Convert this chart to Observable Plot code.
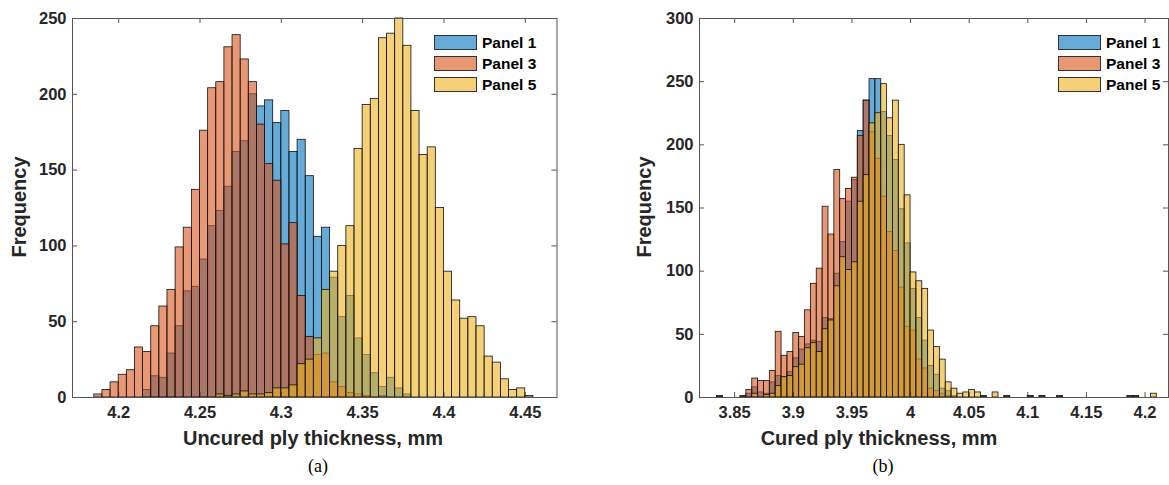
<!DOCTYPE html>
<html>
<head>
<meta charset="utf-8">
<script src="https://cdn.jsdelivr.net/npm/d3@7"></script>
<script src="https://cdn.jsdelivr.net/npm/@observablehq/plot@0.6"></script>
<style>
  html, body { margin: 0; padding: 0; background: #fff; }
  #fig { position: relative; width: 1169px; height: 485px; background: #fff; overflow: hidden;
         font-family: "Liberation Sans", Arial, sans-serif; color: #262626; }
  .abs { position: absolute; white-space: nowrap; }
  .xlab { font-weight: bold; font-size: 20px; transform: translate(-50%, -50%); }
  .ylab { font-weight: bold; font-size: 20px; transform: translate(-50%, -50%) rotate(-90deg); }
  .cap { font-family: "Liberation Serif", "Times New Roman", serif; font-size: 18px; color: #000; transform: translate(-50%, -50%); }
  .leg { display: flex; align-items: center; height: 21px; }
  .patch { width: 43px; height: 15px; border: 1px solid #333; box-sizing: border-box; margin-right: 5px; }
  .legtxt { font-weight: bold; font-size: 15.5px; color: #000; }
</style>
</head>
<body>
<div id="fig"></div>
<script>
// ---------------- data ----------------
const binWidth = 0.005;
const seriesNames = ["Panel 1", "Panel 3", "Panel 5"];

// (a) uncured ply thickness: bin left edges and counts
const uncuredBins = [4.185,4.19,4.195,4.2,4.205,4.21,4.215,4.22,4.225,4.23,4.235,4.24,4.245,4.25,4.255,4.26,4.265,4.27,4.275,4.28,4.285,4.29,4.295,4.3,4.305,4.31,4.315,4.32,4.325,4.33,4.335,4.34,4.345,4.35,4.355,4.36,4.365,4.37,4.375,4.38,4.385,4.39,4.395,4.4,4.405,4.41,4.415,4.42,4.425,4.43,4.435,4.44,4.445,4.45];
const uncuredPanel1 = [0,0,0,0,0,0,5,14,13,29,47,70,73,91,113,123,139,162,169,200,192,196,181,189,162,170,146,106,112,79,53,67,39,28,16,7,13,6,2,0,0,0,0,0,0,0,0,0,0,0,0,0,0,0];
const uncuredPanel3 = [2,5,10,15,18,33,30,47,60,71,99,112,137,176,204,208,231,239,223,208,180,154,143,101,115,67,40,28,29,10,7,3,2,1,0,1,0,0,0,0,0,0,0,0,0,0,0,0,0,0,0,0,0,0];
const uncuredPanel5 = [0,0,0,0,0,0,0,0,0,0,0,0,0,0,0,2,1,2,4,2,2,3,6,6,8,22,25,39,71,83,100,113,164,193,197,237,240,250,232,189,160,165,125,83,64,52,53,47,27,23,12,5,6,1];

// (b) cured ply thickness: bin left edges and counts
const curedBins = [3.835,3.84,3.845,3.85,3.855,3.86,3.865,3.87,3.875,3.88,3.885,3.89,3.895,3.9,3.905,3.91,3.915,3.92,3.925,3.93,3.935,3.94,3.945,3.95,3.955,3.96,3.965,3.97,3.975,3.98,3.985,3.99,3.995,4.0,4.005,4.01,4.015,4.02,4.025,4.03,4.035,4.04,4.045,4.05,4.055,4.06,4.065,4.07,4.075,4.08,4.085,4.09,4.095,4.1,4.105,4.11,4.115,4.12,4.125,4.13,4.135,4.14,4.145,4.15,4.155,4.16,4.165,4.17,4.175,4.18,4.185,4.19,4.195,4.2,4.205];
const curedPanel1 = [1,0,0,0,1,3,8,4,3,12,17,16,20,31,38,42,45,44,63,62,98,123,155,172,211,235,252,252,226,207,188,149,122,86,63,45,25,18,7,5,1,0,0,0,0,1,0,0,0,1,0,0,0,1,0,1,0,0,1,0,0,0,0,0,0,0,0,0,0,0,1,1,0,0,0];
const curedPanel3 = [1,0,0,0,1,6,15,13,13,21,52,33,36,51,48,69,90,102,151,129,180,157,165,174,207,235,210,189,159,131,116,87,56,53,30,23,7,5,3,1,0,0,0,0,0,1,0,0,0,1,0,0,0,1,0,1,0,0,1,0,0,0,0,0,0,0,0,0,0,0,1,1,0,0,0];
const curedPanel5 = [0,0,0,0,0,0,3,0,2,3,9,16,17,24,26,39,43,36,54,61,88,111,101,107,155,176,217,225,248,221,235,200,160,99,92,86,53,40,30,12,7,3,4,6,4,0,0,4,0,0,0,0,0,0,0,0,0,0,0,0,0,0,0,0,0,0,0,0,0,0,0,0,0,0,3];

// axis ticks
const uncuredXTicks = [4.2, 4.25, 4.3, 4.35, 4.4, 4.45];
const uncuredYTicks = [0, 50, 100, 150, 200, 250];
const curedXTicks = [3.85, 3.9, 3.95, 4, 4.05, 4.1, 4.15, 4.2];
const curedYTicks = [0, 50, 100, 150, 200, 250, 300];

// MATLAB default colours, drawn with face alpha 0.6
const colors = ["#0072BD", "#D95319", "#EDB120"];
const faceAlpha = 0.6;

function records(bins, counts) {
  return bins.map((b, i) => ({x1: b, x2: b + binWidth, y: counts[i]})).filter(d => d.y > 0);
}

function histogram({bins, series, xDomain, yDomain, xTicks, yTicks, width, height, margin}) {
  const innerH = height - margin.top - margin.bottom;
  const innerW = width - margin.left - margin.right;
  const fmt = d3.format("~g");
  const axisCol = "#262626";
  return Plot.plot({
    width, height,
    marginLeft: margin.left, marginRight: margin.right,
    marginTop: margin.top, marginBottom: margin.bottom,
    x: {type: "linear", domain: xDomain},
    y: {type: "linear", domain: yDomain},
    style: {fontFamily: "'Liberation Sans', Arial, sans-serif", fontSize: "16.5px", fontWeight: "bold", color: axisCol, background: "transparent", overflow: "visible"},
    marks: [
      ...series.map((counts, k) => Plot.rect(records(bins, counts), {
        x1: "x1", x2: "x2", y1: 0, y2: "y",
        fill: colors[k], fillOpacity: faceAlpha,
        stroke: "#111", strokeWidth: 0.8
      })),
      Plot.tickX(xTicks, {x: d => d, insetTop: innerH - 5, stroke: axisCol, strokeWidth: 0.8}),
      Plot.tickX(xTicks, {x: d => d, insetBottom: innerH - 5, stroke: axisCol, strokeWidth: 0.8}),
      Plot.tickY(yTicks, {y: d => d, insetRight: innerW - 5, stroke: axisCol, strokeWidth: 0.8}),
      Plot.tickY(yTicks, {y: d => d, insetLeft: innerW - 5, stroke: axisCol, strokeWidth: 0.8}),
      Plot.axisX(xTicks, {anchor: "bottom", tickSize: 0, tickPadding: 9, tickFormat: fmt, label: null, fill: axisCol}),
      Plot.axisY(yTicks, {anchor: "left", tickSize: 0, tickPadding: 6, tickFormat: fmt, label: null, fill: axisCol}),
      Plot.frame({stroke: "#555", strokeWidth: 1})
    ]
  });
}

const fig = document.getElementById("fig");

function place(el, left, top) {
  el.style.position = "absolute";
  el.style.left = left + "px";
  el.style.top = top + "px";
  fig.appendChild(el);
}

const chartA = histogram({
  bins: uncuredBins,
  series: [uncuredPanel1, uncuredPanel3, uncuredPanel5],
  xDomain: [4.1716, 4.4695], yDomain: [0, 250],
  xTicks: uncuredXTicks, yTicks: uncuredYTicks,
  width: 585, height: 430,
  margin: {left: 72, right: 28.5, top: 18, bottom: 33}
});
place(chartA, 0, 0);

const chartB = histogram({
  bins: curedBins,
  series: [curedPanel1, curedPanel3, curedPanel5],
  xDomain: [3.82, 4.22], yDomain: [0, 300],
  xTicks: curedXTicks, yTicks: curedYTicks,
  width: 584, height: 430,
  margin: {left: 114, right: 1, top: 18, bottom: 33}
});
place(chartB, 585, 0);

function label(text, cls, x, y) {
  const d = document.createElement("div");
  d.className = "abs " + cls;
  d.textContent = text;
  d.style.left = x + "px";
  d.style.top = y + "px";
  fig.appendChild(d);
}
label("Frequency", "ylab", 19, 207);
label("Frequency", "ylab", 644, 207);
label("Uncured ply thickness, mm", "xlab", 313, 438);
label("Cured ply thickness, mm", "xlab", 879, 438);
label("(a)", "cap", 318, 466);
label("(b)", "cap", 883, 466);

function legend(x, y) {
  const box = document.createElement("div");
  box.className = "abs";
  box.style.left = x + "px";
  box.style.top = y + "px";
  seriesNames.forEach((name, k) => {
    const row = document.createElement("div");
    row.className = "leg";
    const p = document.createElement("div");
    p.className = "patch";
    const c = d3.color(colors[k]); c.opacity = faceAlpha;
    p.style.background = c.formatRgb();
    const t = document.createElement("span");
    t.className = "legtxt";
    t.textContent = name;
    row.appendChild(p); row.appendChild(t);
    box.appendChild(row);
  });
  fig.appendChild(box);
}
legend(434, 32);
legend(1058, 32);
</script>
</body>
</html>
